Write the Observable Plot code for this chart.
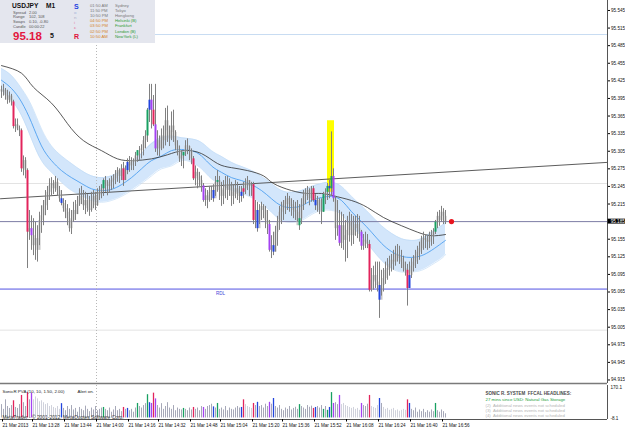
<!DOCTYPE html>
<html><head><meta charset="utf-8">
<script src="https://cdn.jsdelivr.net/npm/d3@7"></script>
<script src="https://cdn.jsdelivr.net/npm/@observablehq/plot@0.6"></script>
<style>
body{margin:0;background:#fff;}
#wrap{position:relative;width:625px;height:429px;overflow:hidden;background:#fff;font-family:"Liberation Sans",Arial,sans-serif;}
#wrap svg{position:absolute;left:0;}
#hdr{position:absolute;left:0;top:0;width:155px;height:43px;background:#e4e6ee;z-index:5;}
#hdr span{position:absolute;white-space:nowrap;line-height:1;}
</style></head><body><div id="wrap"><div id="hdr"></div></div>
<script>
// ---------- price bars (M1, one per minute) ----------
const firstOpen = 95.410;
const high = [
95.416,95.419,95.412,95.409,95.406,95.402,95.392,95.360,95.360,95.348,
95.343,95.297,95.294,95.275,95.204,95.195,95.190,95.184,95.178,95.201,
95.212,95.221,95.238,95.245,95.258,95.260,95.255,95.262,95.258,95.245,
95.238,95.224,95.221,95.214,95.207,95.204,95.218,95.221,95.228,95.241,
95.245,95.238,95.235,95.231,95.228,95.235,95.238,95.235,95.241,95.245,
95.248,95.258,95.262,95.255,95.258,95.262,95.265,95.272,95.277,95.275,
95.282,95.286,95.280,95.292,95.296,95.294,95.292,95.303,95.306,95.313,
95.316,95.330,95.340,95.378,95.419,95.419,95.400,95.419,95.340,95.331,
95.343,95.348,95.378,95.382,95.348,95.372,95.375,95.340,95.323,95.314,
95.306,95.303,95.323,95.326,95.314,95.309,95.296,95.280,95.275,95.269,
95.263,95.250,95.241,95.238,95.245,95.245,95.248,95.262,95.272,95.262,
95.252,95.255,95.262,95.262,95.258,95.252,95.248,95.255,95.252,95.245,
95.245,95.252,95.258,95.262,95.255,95.252,95.252,95.221,95.218,95.214,
95.218,95.214,95.211,95.204,95.187,95.161,95.167,95.177,95.194,95.211,
95.218,95.221,95.228,95.233,95.228,95.224,95.221,95.218,95.221,95.214,
95.224,95.238,95.241,95.245,95.241,95.245,95.245,95.231,95.228,95.224,
95.224,95.235,95.241,95.250,95.255,95.338,95.275,95.228,95.221,95.204,
95.201,95.197,95.187,95.194,95.201,95.197,95.194,95.194,95.197,95.194,
95.170,95.163,95.167,95.163,95.153,95.105,95.109,95.116,95.116,95.116,
95.102,95.105,95.116,95.122,95.126,95.129,95.136,95.143,95.146,95.143,
95.136,95.126,95.116,95.112,95.116,95.122,95.127,95.136,95.143,95.150,
95.160,95.167,95.163,95.160,95.167,95.170,95.173,95.187,95.201,95.204,
95.211,95.207,95.204];
const low = [
95.395,95.399,95.392,95.385,95.387,95.382,95.343,95.337,95.340,95.330,
95.269,95.263,95.258,95.105,95.153,95.136,95.127,95.119,95.116,95.144,
95.165,95.178,95.195,95.204,95.221,95.229,95.231,95.235,95.228,95.218,
95.212,95.201,95.190,95.178,95.167,95.163,95.184,95.187,95.197,95.211,
95.214,95.204,95.197,95.201,95.194,95.201,95.207,95.204,95.211,95.221,
95.224,95.228,95.235,95.229,95.233,95.238,95.241,95.248,95.252,95.250,
95.255,95.245,95.255,95.265,95.269,95.272,95.272,95.279,95.286,95.289,
95.292,95.297,95.309,95.320,95.354,95.343,95.347,95.303,95.297,95.296,
95.306,95.309,95.314,95.320,95.313,95.323,95.320,95.306,95.297,95.286,
95.279,95.275,95.296,95.299,95.289,95.282,95.255,95.246,95.241,95.245,
95.235,95.218,95.211,95.207,95.218,95.221,95.218,95.228,95.235,95.221,
95.211,95.214,95.224,95.221,95.228,95.211,95.214,95.224,95.221,95.216,
95.218,95.224,95.231,95.238,95.228,95.228,95.180,95.173,95.167,95.180,
95.187,95.190,95.173,95.163,95.133,95.122,95.127,95.133,95.143,95.170,
95.180,95.187,95.197,95.204,95.201,95.194,95.190,95.187,95.184,95.170,
95.180,95.204,95.214,95.221,95.212,95.218,95.218,95.204,95.201,95.197,
95.180,95.201,95.214,95.221,95.224,95.228,95.218,95.153,95.160,95.143,
95.139,95.136,95.116,95.122,95.150,95.143,95.146,95.160,95.156,95.150,
95.136,95.136,95.139,95.139,95.065,95.065,95.068,95.071,95.065,95.020,
95.058,95.065,95.078,95.085,95.092,95.099,95.102,95.109,95.116,95.112,
95.105,95.099,95.092,95.041,95.075,95.088,95.099,95.105,95.112,95.119,
95.129,95.136,95.139,95.136,95.139,95.143,95.146,95.163,95.173,95.177,
95.184,95.180,95.180];
const close = [
95.406,95.409,95.400,95.392,95.399,95.389,95.347,95.350,95.343,95.340,
95.275,95.289,95.272,95.167,95.173,95.161,95.144,95.156,95.136,95.187,
95.195,95.212,95.221,95.235,95.246,95.250,95.241,95.252,95.238,95.224,
95.216,95.207,95.201,95.190,95.173,95.187,95.204,95.197,95.214,95.228,
95.221,95.212,95.221,95.207,95.204,95.221,95.228,95.212,95.229,95.235,
95.241,95.255,95.248,95.245,95.252,95.255,95.258,95.265,95.272,95.262,
95.275,95.255,95.272,95.286,95.280,95.289,95.286,95.297,95.306,95.306,
95.309,95.323,95.331,95.375,95.392,95.375,95.350,95.309,95.323,95.309,
95.331,95.323,95.357,95.340,95.326,95.348,95.337,95.314,95.306,95.292,
95.297,95.303,95.314,95.313,95.306,95.292,95.258,95.269,95.262,95.255,
95.246,95.221,95.229,95.221,95.235,95.238,95.224,95.252,95.255,95.238,
95.228,95.241,95.248,95.238,95.245,95.228,95.235,95.241,95.231,95.228,
95.235,95.241,95.252,95.255,95.245,95.248,95.187,95.204,95.173,95.204,
95.211,95.204,95.187,95.180,95.136,95.144,95.133,95.167,95.184,95.201,
95.207,95.214,95.221,95.224,95.214,95.211,95.204,95.201,95.178,95.190,
95.214,95.228,95.235,95.238,95.224,95.241,95.221,95.212,95.221,95.204,
95.201,95.231,95.235,95.245,95.241,95.262,95.224,95.173,95.178,95.148,
95.178,95.153,95.161,95.170,95.184,95.161,95.173,95.180,95.173,95.167,
95.143,95.153,95.150,95.146,95.068,95.085,95.093,95.082,95.076,95.051,
95.076,95.088,95.102,95.105,95.112,95.119,95.116,95.129,95.126,95.122,
95.116,95.105,95.102,95.071,95.093,95.109,95.116,95.126,95.133,95.139,
95.153,95.156,95.153,95.150,95.160,95.160,95.167,95.184,95.194,95.187,
95.201,95.194,95.185];

// ---------- SonicR PVA volume ----------
const volume = [
70,45,95,60,50,65,90,55,50,70,
118,80,60,133,95,130,95,110,100,85,
90,80,70,75,60,65,55,50,60,45,
75,50,38,60,45,65,42,50,30,55,
45,38,62,45,33,52,42,60,38,45,
52,55,45,38,52,30,42,60,38,45,
33,55,45,50,38,45,30,52,76,60,
52,65,75,122,80,76,130,100,65,52,
75,45,60,80,52,45,65,38,52,45,
42,50,45,38,52,42,55,45,52,38,
60,55,45,60,65,72,58,52,76,45,
52,42,60,38,52,45,42,52,60,52,
55,95,70,60,55,50,76,65,82,60,
65,52,72,60,82,72,102,60,52,65,
45,38,52,45,60,42,50,56,45,70,
60,52,45,65,56,62,50,55,60,52,
65,45,60,40,55,133,76,80,70,118,
70,76,65,60,55,50,55,45,50,40,
76,65,60,72,118,60,55,50,65,102,
76,55,45,50,40,45,50,38,42,35,
40,45,40,95,76,45,38,52,30,42,
33,45,28,38,30,42,33,76,38,30,
42,33,22];
const redBars    = [6,10,13,61,76,96,121,126,156,184,203];
const greenBars  = [51,68,73,91,108,149,161,163,165,217];
const blueBars   = [30,63,74,106,120,128,136,157,164,189,204];
const purpleBars = [15,75,77,101,134,166,169,180];
const paleRanges = [[16,29],[122,125],[170,179],[185,188],[191,202]];

// ---------- Sonic dragon band (EMA34 high / low / close), slow MA, trendline ----------
const bandIdx = [0,5,10,15,20,25,30,35,40,45,50,55,60,65,70,75,80,85,90,95,100,105,110,115,120,125,130,135,140,145,150,155,160,165,170,175,180,185,190,195,200,205,210,215,220,222];
const bandTop = [95.446,95.434,95.412,95.383,95.343,95.314,95.297,95.284,95.272,95.263,95.260,95.263,95.272,95.286,95.301,95.318,95.328,95.331,95.328,95.326,95.320,95.306,95.296,95.286,95.279,95.272,95.262,95.250,95.238,95.235,95.238,95.245,95.250,95.252,95.245,95.228,95.212,95.195,95.178,95.165,95.156,95.153,95.156,95.167,95.178,95.184];
const bandBot = [95.409,95.392,95.366,95.326,95.289,95.269,95.252,95.238,95.229,95.221,95.218,95.221,95.228,95.238,95.250,95.263,95.275,95.280,95.289,95.286,95.275,95.258,95.248,95.238,95.233,95.226,95.216,95.201,95.187,95.184,95.187,95.197,95.204,95.204,95.197,95.177,95.160,95.139,95.119,95.105,95.099,95.099,95.102,95.111,95.122,95.129];
const bandMid = [95.426,95.412,95.389,95.354,95.314,95.289,95.272,95.260,95.250,95.241,95.238,95.240,95.248,95.260,95.275,95.289,95.297,95.306,95.308,95.306,95.297,95.280,95.269,95.260,95.255,95.248,95.238,95.224,95.212,95.209,95.212,95.221,95.226,95.228,95.221,95.202,95.185,95.167,95.148,95.134,95.126,95.124,95.127,95.136,95.148,95.153];
const maIdx   = [0,10,16,25,33,41,50,58,66,75,83,91,100,108,115,123,131,136,145,153,160,166,175,183,191,200,208,215,222];
const maValue = [95.451,95.438,95.414,95.387,95.352,95.323,95.306,95.292,95.289,95.292,95.299,95.306,95.301,95.284,95.277,95.272,95.263,95.250,95.238,95.233,95.233,95.229,95.221,95.209,95.192,95.178,95.167,95.161,95.163];
const trendIdx = [-0.5, 303];
const trendValue = [95.224, 95.286];

// ---------- levels & annotations ----------
const bidPrice = 95.185;
const rdlPrice = 95.070;
const lightLevels = [95.504, 95.250, 95.000];
const spike = {from:163, to:166.5, top:95.357, bottom:95.235};
const lastIdx = 225;
const separatorIdx = 47.5;

// ---------- axes ----------
const priceTicks = [94.915,94.945,94.975,95.005,95.035,95.065,95.095,95.125,95.155,95.215,95.245,95.275,95.305,95.335,95.365,95.395,95.425,95.455,95.485,95.515,95.545];
const timeTickIdx = [0,15,31,47,63,78,94,109,125,140,156,172,188,204,220];
const timeTickLabels = ["21 Mar 2013","21 Mar 13:28","21 Mar 13:44","21 Mar 14:00","21 Mar 14:16","21 Mar 14:32","21 Mar 14:48","21 Mar 15:04","21 Mar 15:20","21 Mar 15:36","21 Mar 15:52","21 Mar 16:08","21 Mar 16:24","21 Mar 16:40","21 Mar 16:56"];
const volTop = 170.1, volBottom = -8.1;

// ---------- header texts ----------
const symbol = "USDJPY", timeframe = "M1";
const infoLabels = ["Spread","Range","Swaps","Candle"];
const infoValues = ["2.00","102, 108","0.10, -0.80","00:00:22"];
const bigPrice = "95.18", bigPipette = "5";
const sessionTimes = ["01:50 AM","11:50 PM","10:50 PM","04:50 PM","03:50 PM","02:50 PM","10:50 AM"];
const sessionCities = ["Sydney","Tokyo","Hongkong","Helsinki (B)","Frankfurt","London (B)","NewYork (L)"];
const sessionOpen = [false,false,false,true,true,true,true];
const headlines = ["SONIC R. SYSTEM  FFCAL HEADLINES:","27 mins since USD: Natural Gas Storage","(2)  Additional news events not scheduled","(3)  Additional news events not scheduled","(4)  Additional news events not scheduled"];

// ---------- build ----------
const F = "'Liberation Sans', Arial, sans-serif";
const COL = {red:"#e2245c", green:"#18a062", blue:"#2244dd", purple:"#a442f2"};
const kind = new Map();
redBars.forEach(i=>kind.set(i,"red")); greenBars.forEach(i=>kind.set(i,"green"));
blueBars.forEach(i=>kind.set(i,"blue")); purpleBars.forEach(i=>kind.set(i,"purple"));
const isPale = i => paleRanges.some(([a,b])=>i>=a&&i<=b);
const bars = high.map((h,i)=>({i, h, l:low[i], c:close[i], o: i===0?firstOpen:close[i-1], k: kind.get(i)||"gray", v: volume[i], pale: isPale(i)}));
const band = bandIdx.map((i,j)=>({i, hi:bandTop[j], lo:bandBot[j], mid:bandMid[j]}));
const ma = maIdx.map((i,j)=>({i, p:maValue[j]}));
const trend = trendIdx.map((i,j)=>({i, p:trendValue[j]}));
const xDomain = [-0.5, 303];

const main = Plot.plot({
  width:625, height:384, marginLeft:0, marginRight:18, marginTop:0, marginBottom:1,
  x:{domain:xDomain, axis:null},
  y:{domain:[94.909,95.562]},
  style:{fontFamily:F, fontSize:"4.6px", background:"transparent", overflow:"visible"},
  marks:[
    ...lightLevels.map((p,j)=>Plot.ruleY([p],{stroke: j===0?"#c8dcf2":"#e3e3e3"})),
    Plot.areaY(band,{x:"i", y1:"lo", y2:"hi", fill:"#d3e6fb", curve:"natural"}),
    Plot.line(band,{x:"i", y:"hi", stroke:"#bcd8f5", strokeWidth:0.6, curve:"natural"}),
    Plot.line(band,{x:"i", y:"lo", stroke:"#bcd8f5", strokeWidth:0.6, curve:"natural"}),
    Plot.line(band,{x:"i", y:"mid", stroke:"#3d97ef", strokeWidth:0.8, curve:"natural"}),
    Plot.ruleY([bidPrice],{stroke:"#7c7ca4"}),
    Plot.ruleY([rdlPrice],{stroke:"#5252e2"}),
    Plot.text(["RDL"],{x:109.5, y:rdlPrice, dy:4, fontSize:4.6, fill:"#4848d8"}),
    Plot.ruleX([separatorIdx],{stroke:"#b8b8b8", strokeDasharray:"1,2"}),
    Plot.rect([spike],{x1:"from", x2:"to", y1:"bottom", y2:"top", fill:"#ffff00"}),
    Plot.line(trend,{x:"i", y:"p", stroke:"#4a4a4a", strokeWidth:0.9}),
    Plot.line(ma,{x:"i", y:"p", stroke:"#2e2e2e", strokeWidth:0.8, curve:"natural"}),
    Plot.ruleX(bars.filter(d=>d.k==="gray"),{x:"i", y1:"o", y2:"c", stroke:"#c4c4c4", strokeWidth:2}),
    Plot.ruleX(bars,{x:"i", y1:"l", y2:"h", stroke:"#808080", strokeWidth:1}),
    ...Object.keys(COL).map(k=>Plot.ruleX(bars.filter(d=>d.k===k),{x:"i", y1:"o", y2:"c", stroke:COL[k], strokeWidth:2})),
    Plot.dot([{i:lastIdx, p:bidPrice}],{x:"i", y:"p", r:2.6, fill:"#e8141e"}),
    Plot.ruleX([303],{stroke:"#555"}),
    Plot.ruleY([94.909],{stroke:"#7a7a7a", strokeWidth:1.5}),
    Plot.axisY(priceTicks,{anchor:"right", tickSize:2, tickPadding:1.5, tickFormat:d=>d.toFixed(3), fontSize:4.6, fill:"#111", label:null}),
    Plot.rect([bidPrice],{x1:303.3, x2:313, y1:d=>d-0.0042, y2:d=>d+0.0042, fill:"#000"}),
    Plot.text([bidPrice],{x:304.6, y:d=>d, text:d=>d.toFixed(3), textAnchor:"start", fill:"#fff", fontSize:4.6})
  ]
});
main.style.top = "0px";

const vol = Plot.plot({
  width:625, height:46, marginLeft:0, marginRight:18, marginTop:2, marginBottom:10,
  x:{domain:xDomain},
  y:{domain:[volBottom, volTop], axis:null},
  style:{fontFamily:F, fontSize:"4.6px", background:"transparent", overflow:"visible"},
  marks:[
    Plot.ruleX([separatorIdx],{stroke:"#b8b8b8", strokeDasharray:"1,2"}),
    Plot.ruleX(bars.filter(d=>d.k==="gray"&&!d.pale),{x:"i", y1:0, y2:"v", stroke:"#a6a8b8", strokeWidth:1}),
    Plot.ruleX(bars.filter(d=>d.k==="gray"&&d.pale),{x:"i", y1:0, y2:"v", stroke:"#d0d2dc", strokeWidth:1}),
    ...Object.keys(COL).map(k=>Plot.ruleX(bars.filter(d=>d.k===k),{x:"i", y1:0, y2:"v", stroke:COL[k], strokeWidth:1.3})),
    Plot.text(["SonicR PVA (10, 10, 1.50, 2.00)"],{frameAnchor:"top-left", dx:2, dy:4, textAnchor:"start", fontSize:4.4, fill:"#222"}),
    Plot.text(["Alert on."],{frameAnchor:"top-left", dx:77, dy:4, textAnchor:"start", fontSize:4.4, fill:"#222"}),
    Plot.text([headlines[0]],{frameAnchor:"top-left", dx:485, dy:6.5, textAnchor:"start", fontSize:4.5, fontWeight:"bold", fill:"#4a4a4a"}),
    Plot.text([headlines[1]],{frameAnchor:"top-left", dx:485, dy:12.5, textAnchor:"start", fontSize:4.4, fill:"#22a03a"}),
    ...headlines.slice(2).map((t,j)=>Plot.text([t],{frameAnchor:"top-left", dx:485, dy:18+j*5.3, textAnchor:"start", fontSize:4.3, fill:"#b4b4b4"})),
    Plot.text(["MetaTrader - © 2001-2012, MetaQuotes Software Corp."],{frameAnchor:"top-left", dx:2, dy:30, textAnchor:"start", fontSize:4.9, fill:"#333"}),
    Plot.ruleX([303],{stroke:"#555"}),
    Plot.ruleY([volBottom],{stroke:"#555"}),
    Plot.text([volTop],{y:d=>d, frameAnchor:"right", dx:3, dy:2, text:d=>d.toFixed(1), textAnchor:"start", fontSize:4.6, fill:"#111"}),
    Plot.text([volBottom],{y:d=>d, frameAnchor:"right", dx:3, dy:-1, text:d=>d.toFixed(1), textAnchor:"start", fontSize:4.6, fill:"#111"}),
    Plot.axisX(timeTickIdx,{anchor:"bottom", tickSize:2.5, tickPadding:1.5, textAnchor:"start", dx:1, fontSize:4.6, fill:"#111", tickFormat:(d,j)=>timeTickLabels[j], label:null})
  ]
});
vol.style.top = "383px";

const wrap = document.getElementById("wrap");
wrap.insertBefore(vol, wrap.firstChild);
wrap.insertBefore(main, wrap.firstChild);

// ---------- header box ----------
const hdr = document.getElementById("hdr");
function put(txt, left, center, size, color, bold){
  const s = document.createElement("span");
  s.textContent = txt;
  s.style.left = left+"px"; s.style.top = (center - size*0.5)+"px";
  s.style.fontSize = size+"px"; s.style.color = color;
  if (bold) s.style.fontWeight = "bold";
  hdr.appendChild(s);
}
put(symbol, 12, 6.5, 6.6, "#111", true);
put(timeframe, 46, 6.5, 6.6, "#111", true);
infoLabels.forEach((t,j)=>{ put(t, 13, 12.5+j*4.8, 4, "#555"); put(infoValues[j], 29, 12.5+j*4.8, 4, "#555"); });
put(bigPrice, 13, 37, 11.5, "#e3173e", true);
put(bigPipette, 50, 35.5, 7, "#111", true);
const sonic = [["S","#2040e0",7,true,6],["o","#9fb0d8",4.4,false,13],["n","#aab0c8",4.4,false,18],["i","#e27aa2",4.4,false,23],["c","#e2588a",4.4,false,28],["R","#e0103a",7,true,36]];
sonic.forEach(([t,c,s,b,y])=>put(t, 74, y, s, c, b));
sessionTimes.forEach((t,j)=>{
  const y = 5.7 + j*5.2;
  put(t, 90, y, 4.2, sessionOpen[j] ? "#d5842a" : "#7a7a7a");
  put(sessionCities[j], 115, y, 4.2, sessionOpen[j] ? "#2c9a34" : "#7a7a7a");
});
</script>
</body></html>
